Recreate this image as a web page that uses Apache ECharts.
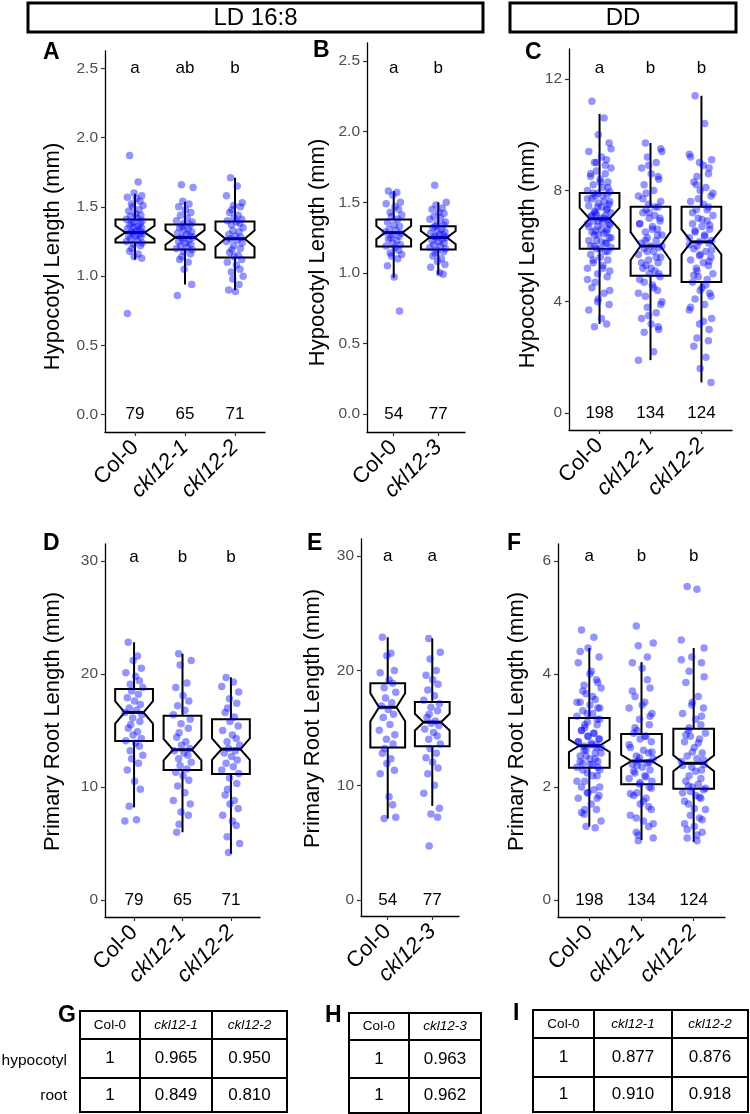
<!DOCTYPE html>
<html>
<head>
<meta charset="utf-8">
<script src="https://cdn.jsdelivr.net/npm/echarts/dist/echarts.min.js"></script>
<style>
  html, body { margin: 0; padding: 0; background: #fff; }
  #main { width: 750px; height: 1114px; }
</style>
</head>
<body>
<div id="main"></div>
<script>
// ---- data ----
var ldGroups = ['Col-0', 'ckl12-1', 'ckl12-2'];
var ld3Groups = ['Col-0', 'ckl12-3'];
var ddGroups = ['Col-0', 'ckl12-1', 'ckl12-2'];

var ticksHypLD = [0, 0.5, 1, 1.5, 2, 2.5];
var tickLabelsHypLD = ['0.0', '0.5', '1.0', '1.5', '2.0', '2.5'];
var ticksHypDD = [0, 4, 8, 12];
var tickLabelsHypDD = ['0', '4', '8', '12'];
var ticksRootLD = [0, 10, 20, 30];
var tickLabelsRootLD = ['0', '10', '20', '30'];
var ticksRootDD = [0, 2, 4, 6];
var tickLabelsRootDD = ['0', '2', '4', '6'];

// box stats per group: [lower whisker, Q1, median, Q3, upper whisker]
var boxA = [[1.12, 1.243, 1.315, 1.408, 1.595], [0.94, 1.193, 1.279, 1.372, 1.537], [0.898, 1.135, 1.27, 1.394, 1.71]];
var boxB = [[0.966, 1.186, 1.285, 1.378, 1.58], [0.987, 1.165, 1.25, 1.33, 1.5]];
var boxC = [[3.2, 5.9, 6.98, 7.91, 10.75], [1.9, 4.93, 6.0, 7.41, 9.7], [1.1, 4.71, 6.15, 7.41, 11.4]];
var boxD = [[8.2, 14.07, 16.6, 18.67, 22.8], [6.0, 11.5, 13.3, 16.3, 21.8], [4.1, 11.15, 13.35, 16.0, 19.7]];
var boxE = [[7.1, 13.3, 16.8, 18.9, 22.9], [8.2, 13.4, 15.5, 17.25, 22.8]];
var boxF = [[1.3, 2.34, 2.73, 3.22, 4.46], [1.06, 2.05, 2.46, 2.94, 4.21], [1.03, 1.97, 2.42, 3.03, 4.46]];

// notch half-heights
var notchA = [0.048, 0.053, 0.06];
var notchB = [0.047, 0.047];
var notchC = [0.39, 0.5, 0.45];
var notchD = [1.0, 0.95, 0.95];
var notchE = [1.22, 0.73];
var notchF = [0.11, 0.11, 0.14];

var countsLD = [79, 65, 71];
var countsLD3 = [54, 77];
var countsDD = [198, 134, 124];

var lettersA = ['a', 'ab', 'b'];
var lettersB = ['a', 'b'];
var lettersC = ['a', 'b', 'b'];
var lettersD = ['a', 'b', 'b'];
var lettersE = ['a', 'a'];
var lettersF = ['a', 'b', 'b'];

// individual seedlings (approximate reading of the dots)
var pointsA = [
  [1.87, 1.68, 1.60, 1.58, 1.57, 1.56, 1.54, 1.52, 1.51, 1.50, 1.48, 1.47, 1.45, 1.44, 1.43, 1.42, 1.41, 1.40, 1.39, 1.38, 1.38, 1.37, 1.36, 1.35, 1.35, 1.34, 1.33, 1.33, 1.32, 1.31, 1.31, 1.30, 1.29, 1.29, 1.28, 1.27, 1.26, 1.25, 1.24, 1.23, 1.22, 1.20, 1.18, 1.16, 1.14, 1.13, 0.73],
  [1.66, 1.64, 1.54, 1.52, 1.50, 1.48, 1.46, 1.44, 1.42, 1.40, 1.39, 1.38, 1.37, 1.36, 1.35, 1.34, 1.33, 1.32, 1.31, 1.30, 1.29, 1.28, 1.28, 1.27, 1.26, 1.25, 1.24, 1.23, 1.22, 1.21, 1.20, 1.19, 1.18, 1.16, 1.14, 1.12, 1.10, 1.05, 0.94, 0.86],
  [1.71, 1.65, 1.58, 1.53, 1.51, 1.50, 1.48, 1.46, 1.44, 1.42, 1.41, 1.40, 1.39, 1.38, 1.37, 1.35, 1.33, 1.32, 1.30, 1.29, 1.28, 1.27, 1.26, 1.25, 1.24, 1.22, 1.20, 1.19, 1.17, 1.15, 1.14, 1.12, 1.10, 1.08, 1.05, 1.03, 1.00, 0.98, 0.94, 0.90, 0.89]
];
var pointsB = [
  [1.58, 1.57, 1.55, 1.50, 1.49, 1.47, 1.45, 1.43, 1.41, 1.40, 1.38, 1.36, 1.34, 1.33, 1.31, 1.30, 1.29, 1.28, 1.27, 1.26, 1.25, 1.24, 1.23, 1.21, 1.20, 1.19, 1.18, 1.16, 1.14, 1.13, 1.12, 1.10, 1.05, 0.97, 0.73],
  [1.62, 1.50, 1.48, 1.46, 1.45, 1.43, 1.42, 1.40, 1.39, 1.38, 1.36, 1.35, 1.34, 1.33, 1.32, 1.31, 1.30, 1.29, 1.28, 1.27, 1.27, 1.26, 1.25, 1.25, 1.24, 1.23, 1.22, 1.21, 1.20, 1.19, 1.18, 1.17, 1.16, 1.15, 1.14, 1.12, 1.10, 1.08, 1.06, 1.04, 1.00, 0.99]
];
var pointsC = [
  [11.2, 10.6, 10.0, 9.7, 9.4, 9.2, 9.1, 9.0, 8.8, 8.7, 8.6, 8.5, 8.4, 8.3, 8.2, 8.1, 8.0, 7.95, 7.9, 7.85, 7.8, 7.7, 7.6, 7.55, 7.5, 7.45, 7.4, 7.3, 7.25, 7.2, 7.15, 7.1, 7.05, 7.0, 6.95, 6.9, 6.85, 6.8, 6.75, 6.7, 6.6, 6.55, 6.5, 6.45, 6.4, 6.3, 6.2, 6.15, 6.1, 6.0, 5.95, 5.9, 5.8, 5.7, 5.6, 5.5, 5.4, 5.3, 5.2, 5.1, 5.0, 4.9, 4.7, 4.5, 4.3, 4.1, 3.9, 3.7, 3.4, 3.2, 3.1,
   9.5, 9.0, 8.9, 8.6, 8.3, 8.1, 7.9, 7.8, 7.7, 7.6, 7.4, 7.35, 7.2, 7.1, 7.0, 6.9, 6.8, 6.7, 6.6, 6.5, 6.4, 6.3, 6.2, 6.1, 6.0, 5.9, 5.8, 5.5, 5.2, 4.8, 4.4, 4.0],
  [9.7, 9.4, 9.2, 9.0, 8.8, 8.6, 8.4, 8.2, 8.0, 7.8, 7.6, 7.5, 7.4, 7.3, 7.2, 7.1, 7.0, 6.9, 6.8, 6.7, 6.6, 6.5, 6.4, 6.3, 6.2, 6.1, 6.0, 5.95, 5.9, 5.8, 5.7, 5.6, 5.5, 5.4, 5.3, 5.2, 5.1, 5.0, 4.9, 4.8, 4.6, 4.4, 4.2, 4.0, 3.8, 3.6, 3.4, 3.2, 3.0, 2.9, 2.2, 1.9,
   9.5, 8.9, 8.5, 7.9, 7.7, 7.4, 7.2, 7.0, 6.8, 6.6, 6.4, 6.2, 6.0, 5.8, 5.6, 5.4, 5.2, 5.0, 4.7, 4.5, 4.3, 3.9, 3.5, 3.1],
  [11.4, 10.4, 9.3, 9.1, 9.0, 8.8, 8.5, 8.3, 8.1, 8.0, 7.8, 7.6, 7.5, 7.4, 7.3, 7.1, 7.0, 6.9, 6.8, 6.7, 6.6, 6.5, 6.4, 6.3, 6.2, 6.15, 6.1, 6.0, 5.9, 5.8, 5.7, 5.6, 5.5, 5.4, 5.3, 5.2, 5.0, 4.9, 4.8, 4.7, 4.5, 4.3, 4.1, 3.9, 3.7, 3.4, 3.2, 3.0, 2.7, 2.4, 2.0, 1.6, 1.1,
   9.2, 8.9, 8.6, 8.2, 7.9, 7.7, 7.3, 7.2, 6.95, 6.75, 6.55, 6.35, 6.05, 5.85, 5.65, 5.45, 5.1, 4.95, 4.6, 4.4, 4.2, 3.8, 3.3, 2.6]
];
var pointsD = [
  [22.8, 21.6, 21.2, 20.5, 20.1, 19.8, 19.4, 19.1, 18.8, 18.5, 18.2, 17.9, 17.6, 17.3, 17.0, 16.8, 16.6, 16.4, 16.1, 15.8, 15.5, 15.2, 14.9, 14.6, 14.3, 14.1, 13.9, 13.6, 13.2, 12.8, 12.5, 12.1, 11.5, 10.5, 9.8, 8.3, 7.1, 7.0],
  [21.8, 21.2, 20.8, 19.2, 18.8, 18.1, 17.6, 17.2, 16.8, 16.4, 16.0, 15.6, 15.2, 14.8, 14.4, 14.0, 13.7, 13.4, 13.2, 13.0, 12.8, 12.5, 12.2, 11.9, 11.6, 11.3, 11.0, 10.6, 10.1, 9.5, 8.8, 8.5, 7.8, 7.5, 6.7, 6.0],
  [19.7, 19.3, 18.9, 18.4, 17.8, 17.4, 17.0, 16.6, 16.2, 15.8, 15.4, 15.0, 14.6, 14.3, 14.0, 13.7, 13.4, 13.2, 13.0, 12.7, 12.4, 12.1, 11.8, 11.5, 11.2, 10.8, 10.3, 9.8, 9.3, 8.8, 8.5, 8.1, 7.5, 7.0, 6.6, 5.6, 5.0, 4.2]
];
var pointsE = [
  [22.9, 21.5, 21.3, 20.0, 19.8, 19.2, 18.9, 18.5, 18.1, 17.6, 17.2, 16.9, 16.6, 16.2, 15.9, 15.3, 14.8, 14.4, 14.0, 13.6, 13.2, 12.8, 12.3, 11.9, 11.3, 11.0, 9.0, 8.3, 7.1, 7.2],
  [22.8, 21.6, 21.0, 20.0, 19.6, 19.2, 18.8, 18.3, 17.8, 17.4, 17.1, 16.8, 16.5, 16.2, 15.9, 15.6, 15.4, 15.2, 14.9, 14.6, 14.3, 14.0, 13.6, 13.2, 12.8, 12.4, 12.0, 11.5, 11.0, 10.0, 9.3, 8.0, 7.5, 7.2, 4.7]
];
var pointsF = [
  [4.78, 4.65, 4.46, 4.3, 4.2, 4.05, 3.9, 3.8, 3.75, 3.65, 3.55, 3.5, 3.45, 3.4, 3.35, 3.3, 3.25, 3.2, 3.15, 3.1, 3.05, 3.0, 2.95, 2.9, 2.85, 2.8, 2.78, 2.75, 2.72, 2.7, 2.65, 2.6, 2.55, 2.5, 2.45, 2.42, 2.4, 2.35, 2.3, 2.25, 2.2, 2.1, 2.0, 1.95, 1.9, 1.85, 1.8, 1.7, 1.6, 1.52, 1.4, 1.3, 1.28,
   4.4, 4.0, 3.85, 3.7, 3.6, 3.5, 3.4, 3.3, 3.2, 3.1, 3.0, 2.95, 2.9, 2.85, 2.8, 2.75, 2.7, 2.65, 2.6, 2.55, 2.5, 2.45, 2.4, 2.35, 2.3, 2.2, 2.1, 2.0, 1.9, 1.8, 1.6, 1.55],
  [4.85, 4.55, 4.5, 4.3, 4.2, 4.1, 3.75, 3.6, 3.5, 3.4, 3.3, 3.2, 3.1, 3.0, 2.95, 2.9, 2.85, 2.8, 2.7, 2.65, 2.6, 2.55, 2.5, 2.46, 2.42, 2.4, 2.35, 2.3, 2.25, 2.2, 2.15, 2.1, 2.05, 2.0, 1.9, 1.85, 1.8, 1.7, 1.6, 1.5, 1.4, 1.3, 1.2, 1.1, 1.05,
   3.9, 3.7, 3.45, 3.25, 3.05, 2.9, 2.75, 2.62, 2.52, 2.44, 2.38, 2.28, 2.18, 2.08, 1.98, 1.88, 1.75, 1.65, 1.45, 1.35, 1.15],
  [5.55, 5.5, 4.6, 4.46, 4.3, 4.2, 4.05, 3.85, 3.6, 3.5, 3.4, 3.3, 3.2, 3.1, 3.0, 2.95, 2.9, 2.85, 2.8, 2.7, 2.6, 2.55, 2.5, 2.45, 2.4, 2.35, 2.3, 2.2, 2.1, 2.05, 2.0, 1.95, 1.9, 1.85, 1.8, 1.7, 1.6, 1.5, 1.45, 1.35, 1.3, 1.2, 1.1, 1.05,
   4.25, 3.95, 3.45, 3.25, 3.05, 2.92, 2.78, 2.62, 2.48, 2.38, 2.28, 2.15, 2.02, 1.98, 1.92, 1.82, 1.75, 1.62, 1.42, 1.25, 1.15]
];

// horizontal jitter (in category units)
var jitterOffsets = [-0.12, 0.07, -0.02, 0.15, -0.17, 0.03, 0.11, -0.08, 0.18, -0.05, 0.09, -0.14, 0.01, 0.13, -0.1, 0.05, -0.19, 0.16, -0.03, 0.12, -0.07];

// relative length tables
var rowNames = ['hypocotyl', 'root'];
var tableGHeader = ['Col-0', 'ckl12-1', 'ckl12-2'];
var tableGRows = [['1', '0.965', '0.950'], ['1', '0.849', '0.810']];
var tableHHeader = ['Col-0', 'ckl12-3'];
var tableHRows = [['1', '0.963'], ['1', '0.962']];
var tableIHeader = ['Col-0', 'ckl12-1', 'ckl12-2'];
var tableIRows = [['1', '0.877', '0.876'], ['1', '0.910', '0.918']];

// ---- layout ----
var FONT = '"Liberation Sans", Arial, sans-serif';
var TITLE_DOWN = [0, 30, 0, 0];   // shifts rotated axis title down
var TITLE_UP = [0, 0, 0, 18];     // shifts rotated axis title up
var panels = [
  {tag: 'A', tagPos: [43, 53], grid: {left: 105, top: 51, width: 160, height: 381}, yMin: -0.125, yMax: 2.625,
   ticks: ticksHypLD, tickLabels: tickLabelsHypLD, groups: ldGroups, box: boxA, notch: notchA, pts: pointsA, jit: 0.9,
   letters: lettersA, letterY: 2.5, counts: countsLD, title: 'Hypocotyl Length (mm)', nameGap: 41, namePad: TITLE_DOWN},
  {tag: 'B', tagPos: [313, 51], grid: {left: 367, top: 43, width: 98, height: 389}, yMin: -0.127, yMax: 2.628,
   ticks: ticksHypLD, tickLabels: tickLabelsHypLD, groups: ld3Groups, box: boxB, notch: notchB, pts: pointsB, jit: 1,
   letters: lettersB, letterY: 2.45, counts: countsLD3, title: 'Hypocotyl Length (mm)', nameGap: 38, namePad: TITLE_DOWN},
  {tag: 'C', tagPos: [525, 53], grid: {left: 569, top: 49, width: 163, height: 381}, yMin: -0.61, yMax: 13.08,
   ticks: ticksHypDD, tickLabels: tickLabelsHypDD, groups: ddGroups, box: boxC, notch: notchC, pts: pointsC, jit: 1.25,
   letters: lettersC, letterY: 12.4, counts: countsDD, title: 'Hypocotyl Length (mm)', nameGap: 30, namePad: TITLE_DOWN},
  {tag: 'D', tagPos: [43, 544], grid: {left: 105, top: 544, width: 155, height: 373}, yMin: -1.5, yMax: 31.5,
   ticks: ticksRootLD, tickLabels: tickLabelsRootLD, groups: ldGroups, box: boxD, notch: notchD, pts: pointsD, jit: 1,
   letters: lettersD, letterY: 30.3, counts: countsLD, title: 'Primary Root Length (mm)', nameGap: 41, namePad: TITLE_UP},
  {tag: 'E', tagPos: [307, 544], grid: {left: 361, top: 539, width: 98, height: 377}, yMin: -1.4, yMax: 31.47,
   ticks: ticksRootLD, tickLabels: tickLabelsRootLD, groups: ld3Groups, box: boxE, notch: notchE, pts: pointsE, jit: 1,
   letters: lettersE, letterY: 30, counts: countsLD3, title: 'Primary Root Length (mm)', nameGap: 37, namePad: TITLE_UP},
  {tag: 'F', tagPos: [507, 544], grid: {left: 558, top: 544, width: 167, height: 373}, yMin: -0.3, yMax: 6.3,
   ticks: ticksRootDD, tickLabels: tickLabelsRootDD, groups: ddGroups, box: boxF, notch: notchF, pts: pointsF, jit: 1.25,
   letters: lettersF, letterY: 6.08, counts: countsDD, title: 'Primary Root Length (mm)', nameGap: 30, namePad: TITLE_UP}
];

function renderBox(params, api) {
  var x = api.value(0);
  var lo = api.value(1), q1 = api.value(2), med = api.value(3), q3 = api.value(4), hi = api.value(5), nh = api.value(6);
  var bw = api.size([1, 0])[0] * 0.78;
  var cx = api.coord([x, med])[0];
  function yv(v) { return api.coord([x, v])[1]; }
  var L = cx - bw / 2, R = cx + bw / 2, nL = cx - bw / 4, nR = cx + bw / 4;
  var lineStyle = {stroke: '#000', lineWidth: 2, fill: null};
  return {
    type: 'group',
    children: [
      {type: 'line', shape: {x1: cx, y1: yv(q3), x2: cx, y2: yv(hi)}, style: lineStyle},
      {type: 'line', shape: {x1: cx, y1: yv(q1), x2: cx, y2: yv(lo)}, style: lineStyle},
      {type: 'polygon', shape: {points: [
        [L, yv(q3)], [R, yv(q3)], [R, yv(med + nh)], [nR, yv(med)], [R, yv(med - nh)],
        [R, yv(q1)], [L, yv(q1)], [L, yv(med - nh)], [nL, yv(med)], [L, yv(med + nh)]
      ]}, style: {stroke: '#000', lineWidth: 2, fill: '#fff'}},
      {type: 'line', shape: {x1: nL, y1: yv(med), x2: nR, y2: yv(med)}, style: {stroke: '#000', lineWidth: 3}}
    ]
  };
}

function textSeries(idx, yVal, texts) {
  return {
    type: 'custom', xAxisIndex: idx, yAxisIndex: idx, silent: true, z: 5,
    data: texts.map(function (t, i) { return [i, yVal]; }),
    renderItem: function (params, api) {
      var p = api.coord([api.value(0), api.value(1)]);
      return {type: 'text', x: p[0], y: p[1], style: {
        text: String(texts[params.dataIndex]), fill: '#000', fontSize: 17, fontFamily: FONT,
        align: 'center', verticalAlign: 'middle'}};
    }
  };
}

var grids = [], xAxes = [], yAxes = [], series = [];
panels.forEach(function (p, idx) {
  grids.push({left: p.grid.left, top: p.grid.top, width: p.grid.width, height: p.grid.height, containLabel: false});
  var catIdx = p.groups.map(function (g, i) { return i; });
  xAxes.push({
    type: 'value', gridIndex: idx, min: -0.6, max: p.groups.length - 0.4,
    axisLine: {show: true, onZero: false, lineStyle: {color: '#000', width: 1.3}},
    axisTick: {show: true, customValues: catIdx, length: 4, lineStyle: {color: '#333', width: 1.2}},
    splitLine: {show: false},
    axisLabel: {
      customValues: catIdx, rotate: 45, margin: 12,
      formatter: function (v) {
        var name = p.groups[Math.round(v)];
        return name === 'Col-0' ? '{n|' + name + '}' : '{i|' + name + '}';
      },
      rich: {
        n: {fontSize: 22, color: '#000', fontFamily: FONT},
        i: {fontSize: 22, color: '#000', fontFamily: FONT, fontStyle: 'italic'}
      }
    }
  });
  yAxes.push({
    type: 'value', gridIndex: idx, min: p.yMin, max: p.yMax,
    name: p.title, nameLocation: 'middle', nameGap: p.nameGap,
    nameTextStyle: {fontSize: 22, color: '#000', fontFamily: FONT, padding: p.namePad},
    axisLine: {show: true, onZero: false, lineStyle: {color: '#000', width: 1.3}},
    axisTick: {show: true, customValues: p.ticks, length: 4, lineStyle: {color: '#333', width: 1.2}},
    splitLine: {show: false},
    axisLabel: {
      customValues: p.ticks, margin: 7, color: '#4d4d4d', fontSize: 15.5, fontFamily: FONT,
      formatter: function (v) {
        var k = p.ticks.indexOf(v);
        return k >= 0 ? p.tickLabels[k] : '';
      }
    }
  });
  series.push({
    type: 'custom', xAxisIndex: idx, yAxisIndex: idx, silent: true, z: 2,
    data: p.box.map(function (b, i) { return [i, b[0], b[1], b[2], b[3], b[4], p.notch[i]]; }),
    renderItem: renderBox
  });
  var pts = [];
  p.pts.forEach(function (vals, g) {
    vals.forEach(function (v, i) {
      pts.push([g + p.jit * jitterOffsets[(i + g * 7) % jitterOffsets.length], v]);
    });
  });
  series.push({
    type: 'scatter', xAxisIndex: idx, yAxisIndex: idx, silent: true, z: 3,
    symbolSize: 7.5, itemStyle: {color: '#0000ff', opacity: 0.42},
    data: pts
  });
  series.push(textSeries(idx, p.letterY, p.letters));
  series.push(textSeries(idx, 0, p.counts));
});

// ---- graphic: header boxes, panel tags, tables ----
var graphics = [];
function headerBox(x, y, w, h, label) {
  graphics.push({type: 'rect', shape: {x: x, y: y, width: w, height: h}, style: {fill: '#fff', stroke: '#000', lineWidth: 3}});
  graphics.push({type: 'text', x: x + w / 2, y: y + h / 2 + 1, style: {text: label, fontSize: 24, fontFamily: FONT, fill: '#000', align: 'center', verticalAlign: 'middle'}});
}
headerBox(28, 3, 455, 29, 'LD 16:8');
headerBox(510, 3, 226, 29, 'DD');

function tag(label, x, y) {
  graphics.push({type: 'text', x: x, y: y, style: {text: label, fontSize: 23, fontWeight: 'bold', fontFamily: FONT, fill: '#000', align: 'left', verticalAlign: 'middle'}});
}
panels.forEach(function (p) { tag(p.tag, p.tagPos[0], p.tagPos[1]); });
tag('G', 58, 1016);
tag('H', 325, 1016);
tag('I', 513, 1014);

function table(x, y, colW, rowH, header, rows) {
  var yy = y;
  [header].concat(rows).forEach(function (row, r) {
    var xx = x;
    row.forEach(function (cell, c) {
      graphics.push({type: 'rect', shape: {x: xx, y: yy, width: colW[c], height: rowH[r]}, style: {fill: 'none', stroke: '#000', lineWidth: 2}});
      var isHead = r === 0;
      graphics.push({type: 'text', x: xx + colW[c] / 2, y: yy + rowH[r] / 2, style: {
        text: cell, fontSize: isHead ? 13.5 : 17, fontFamily: FONT, fill: '#000',
        fontStyle: (isHead && cell !== 'Col-0') ? 'italic' : 'normal',
        align: 'center', verticalAlign: 'middle'}});
      xx += colW[c];
    });
    yy += rowH[r];
  });
}
table(80, 1011, [60, 72, 75], [28, 39, 34], tableGHeader, tableGRows);
table(349, 1013, [60, 72], [27, 38, 35], tableHHeader, tableHRows);
table(533, 1010, [61, 78, 76], [28, 39, 35], tableIHeader, tableIRows);
rowNames.forEach(function (name, i) {
  graphics.push({type: 'text', x: 67, y: i === 0 ? 1061 : 1096, style: {text: name, fontSize: 15.5, fontFamily: FONT, fill: '#000', align: 'right', verticalAlign: 'middle'}});
});

var myChart = echarts.init(document.getElementById('main'));
myChart.setOption({
  animation: false,
  backgroundColor: '#fff',
  grid: grids,
  xAxis: xAxes,
  yAxis: yAxes,
  series: series,
  graphic: {elements: graphics}
});
</script>
</body>
</html>
